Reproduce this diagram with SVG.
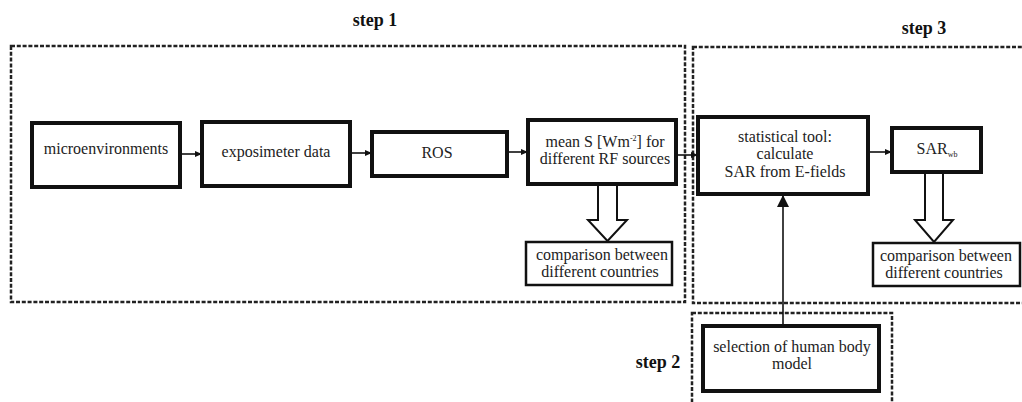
<svg xmlns="http://www.w3.org/2000/svg" width="1022" height="402" viewBox="0 0 1022 402">
  <style>
    .node { fill: #fff; stroke: #111; stroke-width: 4; }
    .thin { fill: #fff; stroke: #111; stroke-width: 2.5; }
    .frame { fill: none; stroke: #222; stroke-width: 2.5; stroke-dasharray: 4 1.8; }
    .lbl { font-family: "Liberation Serif", "DejaVu Serif", serif; font-size: 16px; fill: #222; text-anchor: middle; }
    .step { font-family: "Liberation Serif", "DejaVu Serif", serif; font-size: 18px; font-weight: bold; fill: #111; text-anchor: middle; }
    .conn { fill: none; stroke: #111; stroke-width: 1.6; }
    .hollow { fill: #fff; stroke: #111; stroke-width: 2; stroke-linejoin: miter; }
  </style>
  <defs>
    <marker id="arr" markerWidth="8" markerHeight="8" refX="7" refY="4" orient="auto" markerUnits="userSpaceOnUse">
      <path d="M0,1 L7,4 L0,7 Z" fill="#111"/>
    </marker>
    <marker id="arrBig" markerWidth="12" markerHeight="14" refX="12" refY="6" orient="auto" markerUnits="userSpaceOnUse">
      <path d="M0,0 L12,6 L0,12 Z" fill="#111"/>
    </marker>
  </defs>
  <rect width="1022" height="402" fill="#fff"/>

  <!-- step frames -->
  <g id="frames">
    <rect class="frame" x="11" y="46" width="674" height="256"/>
    <rect class="frame" x="693" y="47" width="340" height="256"/>
    <rect class="frame" x="692" y="313" width="200" height="100"/>
    <text class="step" x="375" y="26">step 1</text>
    <text class="step" x="658" y="368">step 2</text>
    <text class="step" x="924" y="34">step 3</text>
  </g>

  <!-- connectors -->
  <g id="connectors">
    <line class="conn" x1="180" y1="154" x2="202" y2="154" marker-end="url(#arr)"/>
    <line class="conn" x1="350" y1="153" x2="372" y2="153" marker-end="url(#arr)"/>
    <line class="conn" x1="507" y1="152" x2="528" y2="152" marker-end="url(#arr)"/>
    <line class="conn" x1="676" y1="155" x2="698" y2="155" marker-end="url(#arr)"/>
    <line class="conn" x1="868" y1="152" x2="892" y2="152" marker-end="url(#arr)"/>
    <line class="conn" x1="783" y1="326" x2="783" y2="195" stroke-width="2" marker-end="url(#arrBig)"/>
    <path class="hollow" d="M598,186 L598,220 L588,220 L607.5,241 L627,220 L617,220 L617,186"/>
    <path class="hollow" d="M925,174 L925,220 L915,220 L934,242 L953,220 L943,220 L943,174"/>
  </g>

  <g id="microenvironments">
    <rect class="node" x="32" y="123" width="148" height="64"/>
    <text class="lbl" x="106" y="154">microenvironments</text>
  </g>
  <g id="exposimeter">
    <rect class="node" x="202" y="122" width="148" height="64"/>
    <text class="lbl" x="276" y="157">exposimeter data</text>
  </g>
  <g id="ros">
    <rect class="node" x="372" y="132" width="135" height="44"/>
    <text class="lbl" x="437" y="158">ROS</text>
  </g>
  <g id="meanS">
    <rect class="node" x="528" y="120" width="148" height="64"/>
    <text class="lbl" x="605" y="147">mean S [Wm<tspan dy="-6" font-size="8">-2</tspan><tspan dy="6">] for</tspan></text>
    <text class="lbl" x="605" y="164">different RF sources</text>
  </g>
  <g id="comparison1">
    <rect class="thin" x="526" y="242" width="146" height="43"/>
    <text class="lbl" x="602" y="260">comparison between</text>
    <text class="lbl" x="600" y="277">different countries</text>
  </g>
  <g id="statTool">
    <rect class="node" x="698" y="117" width="170" height="77"/>
    <text class="lbl" x="785" y="142">statistical tool:</text>
    <text class="lbl" x="785" y="159">calculate</text>
    <text class="lbl" x="785" y="177">SAR from E-fields</text>
  </g>
  <g id="sarWb">
    <rect class="node" x="892" y="128" width="89" height="44"/>
    <text class="lbl" x="937" y="154">SAR<tspan font-size="8" dy="3">wb</tspan></text>
  </g>
  <g id="comparison2">
    <rect class="thin" x="873" y="243" width="147" height="43"/>
    <text class="lbl" x="946" y="261">comparison between</text>
    <text class="lbl" x="944" y="278">different countries</text>
  </g>
  <g id="bodyModel">
    <rect class="node" x="703" y="326" width="176" height="65"/>
    <text class="lbl" x="792" y="352">selection of human body</text>
    <text class="lbl" x="792" y="369">model</text>
  </g>
</svg>
